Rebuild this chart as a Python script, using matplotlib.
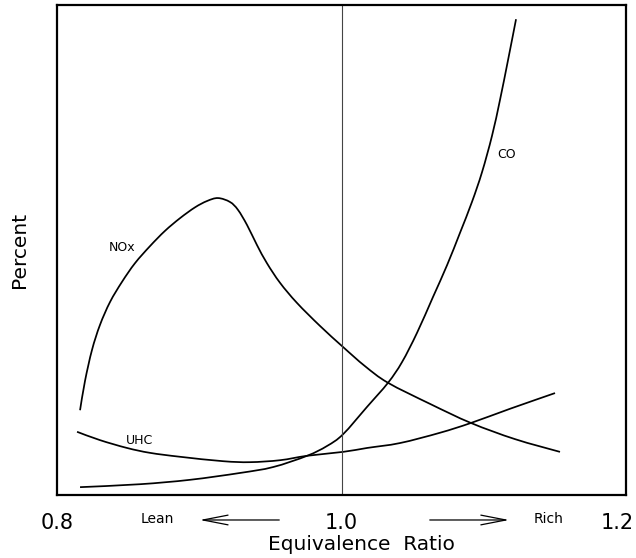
import numpy as np
import matplotlib
matplotlib.use("Agg")
import matplotlib.pyplot as plt
import matplotlib.transforms as mtransforms
from matplotlib.path import Path
from matplotlib.patches import PathPatch

# equivalence ratio / percent (arbitrary units)
nox_phi = [0.8162, 0.8197, 0.8246, 0.8302, 0.8373, 0.8457, 0.8548, 0.8654, 0.8759,
           0.8865, 0.8970, 0.9055, 0.9132, 0.9216, 0.9272, 0.9336, 0.9406, 0.9476,
           0.9568, 0.9687, 0.9849, 1.0011, 1.0165, 1.0327, 1.0622, 1.0910, 1.1220,
           1.1536]
nox_pct = [17.3, 23.3, 29.6, 34.7, 39.4, 43.5, 47.3, 50.8, 53.9,
           56.5, 58.7, 60.0, 60.6, 59.8, 58.2, 55.1, 51.0, 47.3,
           43.3, 39.2, 34.5, 30.2, 26.3, 22.9, 18.6, 14.7, 11.4,
           8.8]

co_phi = [0.8162, 0.8583, 0.8935, 0.9287, 0.9519, 0.9758, 0.9898, 1.0011, 1.0180,
          1.0327, 1.0425, 1.0531, 1.0643, 1.0742, 1.0833, 1.0917, 1.0988, 1.1058,
          1.1114, 1.1171, 1.1227]
co_pct = [1.6, 2.2, 3.1, 4.5, 5.7, 8.0, 10.0, 12.4, 18.0,
          22.9, 27.1, 33.1, 40.4, 46.9, 53.5, 59.8, 65.9, 73.3,
          80.6, 88.8, 97.1]

uhc_phi = [0.8141, 0.8302, 0.8492, 0.8654, 0.8865, 0.9167, 0.9357, 0.9568, 0.9758,
           1.0011, 1.0180, 1.0411, 1.0692, 1.0910, 1.1185, 1.1501]
uhc_pct = [12.9, 11.2, 9.6, 8.6, 7.8, 6.9, 6.7, 7.1, 8.0,
           8.8, 9.6, 10.6, 12.7, 14.7, 17.6, 20.8]

xticks = [0.8, 1.0, 1.2]
xticklabels = ["0.8", "1.0", "1.2"]


def smooth_curve(ax, xs, ys, **kw):
    # draw a Catmull-Rom style bezier through the read points
    p = np.column_stack([xs, ys])
    ext = np.vstack([p[0], p, p[-1]])
    verts = [tuple(p[0])]
    codes = [Path.MOVETO]
    for i in range(len(p) - 1):
        p0, p1, p2, p3 = ext[i], ext[i + 1], ext[i + 2], ext[i + 3]
        c1 = p1 + (p2 - p0) / 6.0
        c2 = p2 - (p3 - p1) / 6.0
        verts += [tuple(c1), tuple(c2), tuple(p2)]
        codes += [Path.CURVE4] * 3
    ax.add_patch(PathPatch(Path(verts, codes), fill=False, **kw))


fig = plt.figure(figsize=(6.36, 5.58), dpi=100)
ax = fig.add_axes([57/636, 63/558, 569/636, 490/558])

smooth_curve(ax, nox_phi, nox_pct, ec='k', lw=1.25)
smooth_curve(ax, co_phi, co_pct, ec='k', lw=1.25)
smooth_curve(ax, uhc_phi, uhc_pct, ec='k', lw=1.25)

# stoichiometric line
ax.axvline(1.0, c='#444444', lw=0.8)

ax.text(0.8457, 50.6, "NOx", fontsize=9, ha='center', va='center')
ax.text(0.8583, 11.2, "UHC", fontsize=9, ha='center', va='center')
ax.text(1.1163, 69.4, "CO", fontsize=9, ha='center', va='center')

ax.set_xlim(0.8, 1.2)
ax.set_ylim(0, 100)
ax.set_xticks(xticks)
ax.set_xticklabels(xticklabels, fontsize=15)
ax.set_yticks([])
ax.tick_params(axis='x', length=0, pad=13)
# keep the last label inside the figure
lab = ax.get_xticklabels()[-1]
lab.set_transform(lab.get_transform() + mtransforms.ScaledTranslation(-9/100, 0, fig.dpi_scale_trans))
for s in ax.spines.values():
    s.set_linewidth(1.6)

fig.text(361/636, 1 - 545/558, "Equivalence  Ratio", fontsize=14.5, ha='center', va='center')
ax.set_ylabel("Percent", fontsize=14.5, labelpad=20)

# lean / rich arrows under the axis
arr = dict(arrowstyle='->,head_length=1.8,head_width=0.35', lw=0.9, mutation_scale=10)
ax.annotate("", xy=(0.8984, -0.051), xytext=(0.9582, -0.051),
            xycoords=('data', 'axes fraction'), textcoords=('data', 'axes fraction'),
            arrowprops=arr, annotation_clip=False)
ax.annotate("", xy=(1.1198, -0.051), xytext=(1.0601, -0.051),
            xycoords=('data', 'axes fraction'), textcoords=('data', 'axes fraction'),
            arrowprops=arr, annotation_clip=False)
ax.text(0.8703, -0.049, "Lean", fontsize=10, ha='center', va='center',
        transform=ax.get_xaxis_transform())
ax.text(1.1459, -0.049, "Rich", fontsize=10, ha='center', va='center',
        transform=ax.get_xaxis_transform())

fig.savefig("out.png", dpi=100)
